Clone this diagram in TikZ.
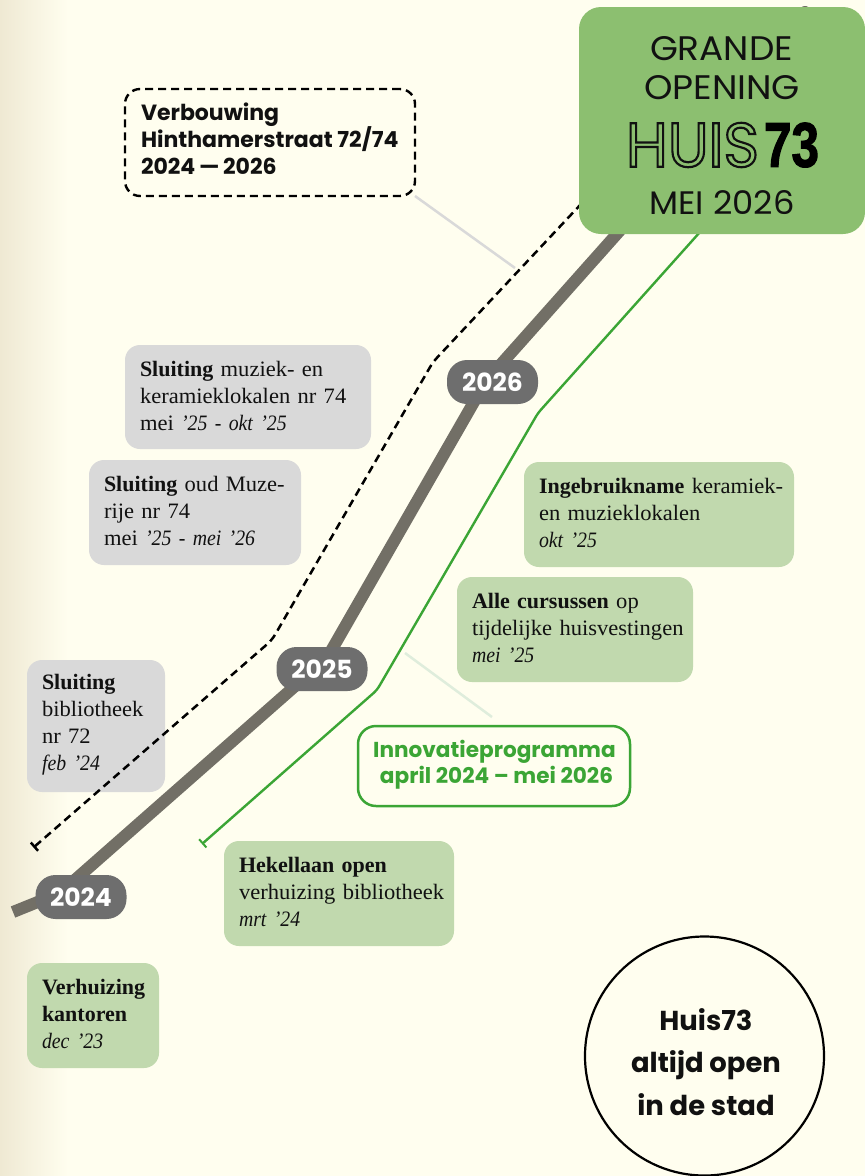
\documentclass[tikz,border=0pt]{standalone}
\usepackage{fontspec}
\usepackage{graphicx}
\usetikzlibrary{arrows.meta}
\setmainfont[FakeStretch=1.025,BoldFeatures={FakeStretch=1.0},ItalicFeatures={FakeStretch=0.9}]{Liberation Serif}
\newfontfamily\mont{Poppins}
\newfontfamily\narrowsans{Liberation Sans}
\definecolor{bgc}{HTML}{FFFEEF}
\definecolor{bgl}{HTML}{EFE9D3}
\definecolor{topg}{HTML}{8CBF70}
\definecolor{lightg}{HTML}{C1D9AE}
\definecolor{greyb}{HTML}{D9D9D9}
\definecolor{pill}{HTML}{6E6E6E}
\definecolor{road}{HTML}{726F66}
\definecolor{gline}{HTML}{3BA535}
\definecolor{paleg}{HTML}{DFEDDC}
\definecolor{ink}{HTML}{111111}
\tikzset{
  every node/.style={outer sep=0pt},
  yearpill/.style={fill=pill,text=white,rounded corners=20pt,minimum width=91pt,minimum height=44pt,inner sep=0pt,font=\mont\bfseries\fontsize{25}{25}\selectfont},
  note/.style={anchor=north west,rounded corners=15pt,align=left,inner xsep=15pt,inner ysep=0pt,text=ink,font=\fontsize{22}{27}\selectfont,execute at begin node={\hsize=400pt},execute at end node={\par\kern 3pt}},
  greennote/.style={note,fill=lightg},
  greynote/.style={note,fill=greyb},
  roadline/.style={draw=road,line width=12pt,line join=round},
  dashline/.style={draw=black,line width=2.5pt,dash pattern=on 8pt off 5pt,rounded corners=6pt},
  greenline/.style={draw=gline,line width=2.4pt,rounded corners=4pt},
  toptext/.style={text=ink,inner sep=0pt,font=\mont\fontsize{33}{33}\selectfont},
  sanstext/.style={inner sep=0pt,font=\mont\bfseries},
}
\begin{document}
\begin{tikzpicture}[x=1pt,y=-1pt]
\useasboundingbox (0,0) rectangle (865,1176);
\fill[bgc] (0,0) rectangle (865,1176);
\shade[left color=bgl,right color=bgc,draw=none] (0,0) rectangle (68,1176);

% grey notes
\node[greynote,minimum width=246pt,minimum height=104pt,text width=216pt] (n1) at (125,345) {\textbf{Sluiting} muziek- en\\keramieklokalen nr 74\\mei \textit{’25 - okt ’25}};
\node[greynote,minimum width=212pt,minimum height=105pt,text width=182pt] (n2) at (89,460) {\textbf{Sluiting} oud Muze-\\rije nr 74\\mei \textit{’25 - mei ’26}};
\node[greynote,minimum width=138pt,minimum height=132pt,text width=108pt] (n3) at (27,660) {\textbf{Sluiting}\\bibliotheek\\nr 72\\\textit{feb ’24}};

% green notes
\node[greennote,minimum width=270pt,minimum height=105pt,text width=240pt] (n4) at (524,462) {\textbf{Ingebruikname} keramiek-\\en muzieklokalen\\\textit{okt ’25}};
\node[greennote,minimum width=236pt,minimum height=105pt,text width=206pt] (n5) at (457,577) {\textbf{Alle cursussen} op\\tijdelijke huisvestingen\\\textit{mei ’25}};
\node[greennote,minimum width=230pt,minimum height=105pt,text width=200pt] (n6) at (224,841) {\textbf{Hekellaan open}\\verhuizing bibliotheek\\\textit{mrt ’24}};
\node[greennote,minimum width=132pt,minimum height=105pt,text width=102pt] (n7) at (27,963) {\textbf{Verhuizing}\\\textbf{kantoren}\\\textit{dec ’23}};

% timeline road
\coordinate (r0) at (13,912);
\coordinate (r1) at (60,893);
\coordinate (r2) at (327,658);
\coordinate (r3) at (486,381);
\coordinate (r4) at (640,208);
\coordinate (r5) at (805,12);
\draw[roadline] (r0) -- (r1) -- (r2) -- (r3) -- (r4);
\draw[roadline,line cap=round] (r4) -- (r5);

% dashed construction line
\coordinate (d0) at (33.5,847.5);
\coordinate (d1) at (272,640);
\coordinate (d2) at (433,362);
\coordinate (d3) at (582,203);
\draw[dashline,{Bar[width=11pt,length=0pt,line width=2.5pt]}-] (d0) -- (d1) -- (d2) -- (d3);

% green line
\coordinate (g0) at (202,844);
\coordinate (g1) at (377,690);
\coordinate (g2) at (538,413);
\coordinate (g3) at (700,232);
\draw[greenline,{Bar[width=11pt,length=0pt,line width=2pt]}-] (g0) -- (g1) -- (g2) -- (g3);

% top box
\node[fill=topg,rounded corners=22pt,minimum width=286pt,minimum height=227pt,inner sep=0pt,anchor=north west] (grand) at (579,7) {};
\node[toptext,anchor=base] (grande) at (721.5,60) {\resizebox{143pt}{24pt}{GRANDE}};
\node[toptext,anchor=base] (opening) at (722,99) {\resizebox{156pt}{24pt}{OPENING}};
\node[toptext,anchor=base] (mei) at (722,214) {\resizebox{145pt}{24pt}{MEI 2026}};
\node[inner sep=0pt,anchor=west] (huis) at (626,145) {\resizebox{133pt}{44pt}{\mont\color{ink}\special{pdf:code 1 Tr 0.35 w}HUIS\special{pdf:code 0 Tr}}};
\node[inner sep=0pt,anchor=west] (seventy) at (764,145) {\resizebox{55pt}{44pt}{\narrowsans\bfseries\color{black}\special{pdf:code 2 Tr 0.2 w}73\special{pdf:code 0 Tr}}};

% year pills
\node[yearpill] (y24) at (81,897) {2024};
\node[yearpill] (y25) at (322,669) {2025};
\node[yearpill] (y26) at (492.5,382) {2026};

% verbouwing
\node[draw=black,line width=2.4pt,dash pattern=on 8pt off 5pt,rounded corners=15pt,anchor=north west,inner sep=0pt,minimum width=290pt,minimum height=107pt] (verb) at (125,89) {};
\node[sanstext,anchor=west,align=left,text=ink,font=\mont\bfseries\fontsize{22}{27}\selectfont] (verbtext) at (141,139) {Verbouwing\\Hinthamerstraat 72/74\\2024\,—\,2026};
\coordinate (vend) at (515,268);
\draw[greyb,line width=2.5pt] (verb.south east) -- (vend);

% innovatie
\node[draw=gline,line width=2.5pt,fill=bgc,rounded corners=18pt,anchor=north west,inner sep=0pt,minimum width=272pt,minimum height=80pt] (inno) at (358,726) {};
\node[sanstext,align=center,text=gline,font=\mont\bfseries\fontsize{21.6}{26}\selectfont] (innotext) at (494.5,764.5) {Innovatieprogramma\\\hspace{4pt}april 2024 – mei 2026};
\coordinate (gstart) at (405,653);
\coordinate (gend) at (492,717);
\draw[paleg,line width=2.5pt] (gstart) -- (gend);

% circle
\node[circle,draw=black,line width=2.2pt,fill=bgc,minimum size=239pt,inner sep=0pt] (open) at (704.5,1056) {};
\node[sanstext,align=center,text=ink,font=\mont\bfseries\fontsize{27.4}{42.5}\selectfont] (opentext) at (706,1062) {Huis73\\altijd open\\in de stad};
\end{tikzpicture}
\end{document}
